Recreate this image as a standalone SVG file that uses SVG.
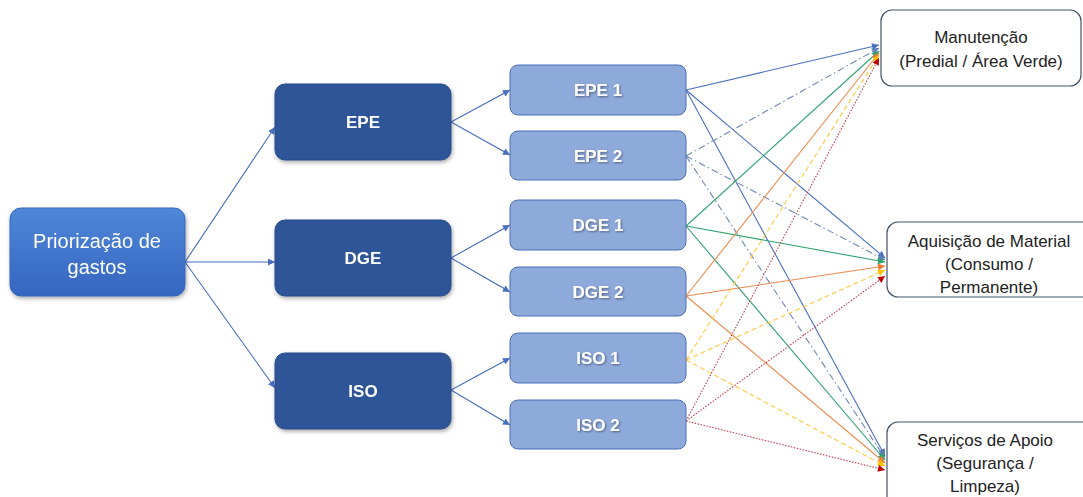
<svg xmlns="http://www.w3.org/2000/svg" width="1083" height="497" viewBox="0 0 1083 497">
<defs>
  <linearGradient id="gLeft" x1="0" y1="0" x2="0" y2="1">
    <stop offset="0" stop-color="#4f87d8"/>
    <stop offset="1" stop-color="#3565c0"/>
  </linearGradient>
  <filter id="sh" x="-10%" y="-10%" width="125%" height="135%">
    <feGaussianBlur in="SourceAlpha" stdDeviation="2"/>
    <feOffset dx="1" dy="2" result="b"/>
    <feComponentTransfer><feFuncA type="linear" slope="0.35"/></feComponentTransfer>
    <feMerge><feMergeNode/><feMergeNode in="SourceGraphic"/></feMerge>
  </filter>
  <filter id="ts" x="-10%" y="-20%" width="120%" height="150%">
    <feGaussianBlur in="SourceAlpha" stdDeviation="0.8"/>
    <feOffset dx="1" dy="1"/>
    <feComponentTransfer><feFuncA type="linear" slope="0.45"/></feComponentTransfer>
    <feMerge><feMergeNode/><feMergeNode in="SourceGraphic"/></feMerge>
  </filter>
  <marker id="aBlue" viewBox="0 0 10 10" refX="10" refY="5" markerWidth="8" markerHeight="7" markerUnits="userSpaceOnUse" orient="auto"><path d="M0,0 L10,5 L0,10 z" fill="#4a6fbf"/></marker>
  <marker id="aBlue2" viewBox="0 0 10 10" refX="10" refY="5" markerWidth="8" markerHeight="7" markerUnits="userSpaceOnUse" orient="auto"><path d="M0,0 L10,5 L0,10 z" fill="#5f7fb8"/></marker>
  <marker id="aGreen" viewBox="0 0 10 10" refX="10" refY="5" markerWidth="8" markerHeight="7" markerUnits="userSpaceOnUse" orient="auto"><path d="M0,0 L10,5 L0,10 z" fill="#2ea26e"/></marker>
  <marker id="aOrange" viewBox="0 0 10 10" refX="10" refY="5" markerWidth="8" markerHeight="7" markerUnits="userSpaceOnUse" orient="auto"><path d="M0,0 L10,5 L0,10 z" fill="#ed7d31"/></marker>
  <marker id="aYellow" viewBox="0 0 10 10" refX="10" refY="5" markerWidth="8" markerHeight="7" markerUnits="userSpaceOnUse" orient="auto"><path d="M0,0 L10,5 L0,10 z" fill="#ffc000"/></marker>
  <marker id="aRed" viewBox="0 0 10 10" refX="10" refY="5" markerWidth="8" markerHeight="7" markerUnits="userSpaceOnUse" orient="auto"><path d="M0,0 L10,5 L0,10 z" fill="#c00000"/></marker>
</defs>
<style>
  .main { fill: url(#gLeft); stroke: #3a66b8; stroke-width: 1; }
  .mid { fill: #2f5597; stroke: #2a4d8a; stroke-width: 1; }
  .sub { fill: #8eaadb; stroke: #4a6fb5; stroke-width: 1; }
  .tgt { fill: #ffffff; stroke: #44546a; stroke-width: 1.2; }
  .wt { fill: #ffffff; font-family: "Liberation Sans", Arial, sans-serif; text-anchor: middle; }
  .bt { fill: #ffffff; font-family: "Liberation Sans", Arial, sans-serif; font-weight: bold; font-size: 17px; text-anchor: middle; }
  .dt { fill: #222222; font-family: "Liberation Sans", Arial, sans-serif; font-size: 17px; text-anchor: middle; }
  .c { fill: none; stroke-width: 1.1; }
  .blue { stroke: #4a6fbf; marker-end: url(#aBlue); }
  .bdd { stroke: #6f87b5; stroke-dasharray: 7 3 1.5 3; marker-end: url(#aBlue2); }
  .green { stroke: #2ea26e; marker-end: url(#aGreen); }
  .orange { stroke: #ee8a4e; marker-end: url(#aOrange); }
  .yellow { stroke: #ffc83d; stroke-dasharray: 5 3; marker-end: url(#aYellow); }
  .red { stroke: #c0404d; stroke-dasharray: 1.5 1.5; marker-end: url(#aRed); }
</style>
<rect width="1083" height="497" fill="#ffffff"/>

<g id="connectors">
  <line class="c blue" x1="185" y1="262" x2="275" y2="127"/>
  <line class="c blue" x1="185" y1="262" x2="275" y2="262"/>
  <line class="c blue" x1="185" y1="262" x2="275" y2="388"/>
  <line class="c blue" x1="451" y1="122" x2="510" y2="90"/>
  <line class="c blue" x1="451" y1="122" x2="510" y2="155"/>
  <line class="c blue" x1="451" y1="258" x2="510" y2="225"/>
  <line class="c blue" x1="451" y1="258" x2="510" y2="292"/>
  <line class="c blue" x1="451" y1="390" x2="510" y2="358"/>
  <line class="c blue" x1="451" y1="390" x2="510" y2="425"/>

  <line class="c blue" x1="686" y1="90" x2="879" y2="45"/>
  <line class="c blue" x1="686" y1="90" x2="885" y2="258"/>
  <line class="c blue" x1="686" y1="90" x2="885" y2="456"/>

  <line class="c bdd" x1="686" y1="156" x2="879" y2="48"/>
  <line class="c bdd" x1="686" y1="156" x2="885" y2="260"/>
  <line class="c bdd" x1="686" y1="156" x2="885" y2="458"/>

  <line class="c green" x1="686" y1="226" x2="879" y2="51"/>
  <line class="c green" x1="686" y1="226" x2="885" y2="262"/>
  <line class="c green" x1="686" y1="226" x2="885" y2="460"/>

  <line class="c orange" x1="686" y1="296" x2="879" y2="53"/>
  <line class="c orange" x1="686" y1="296" x2="885" y2="266"/>
  <line class="c orange" x1="686" y1="296" x2="885" y2="463"/>

  <line class="c yellow" x1="686" y1="360" x2="879" y2="55"/>
  <line class="c yellow" x1="686" y1="360" x2="885" y2="270"/>
  <line class="c yellow" x1="686" y1="360" x2="885" y2="466"/>

  <line class="c red" x1="686" y1="421" x2="879" y2="58"/>
  <line class="c red" x1="686" y1="421" x2="885" y2="276"/>
  <line class="c red" x1="686" y1="421" x2="885" y2="470"/>
</g>

<g id="node-priorizacao" filter="url(#sh)">
  <rect class="main" x="10" y="208" width="175" height="88" rx="11"/>
  <text class="wt" font-size="20" x="97" y="248">Priorização de</text>
  <text class="wt" font-size="20" x="97" y="274">gastos</text>
</g>

<g id="node-epe" filter="url(#sh)">
  <rect class="mid" x="275" y="84" width="176" height="76" rx="10"/>
  <text class="bt" x="363" y="128">EPE</text>
</g>
<g id="node-dge" filter="url(#sh)">
  <rect class="mid" x="275" y="220" width="176" height="76" rx="10"/>
  <text class="bt" x="363" y="264">DGE</text>
</g>
<g id="node-iso" filter="url(#sh)">
  <rect class="mid" x="275" y="353" width="176" height="76" rx="10"/>
  <text class="bt" x="363" y="397">ISO</text>
</g>

<g id="node-epe1">
  <rect class="sub" x="510" y="65" width="176" height="50" rx="8"/>
  <text class="bt" filter="url(#ts)" x="598" y="96">EPE 1</text>
</g>
<g id="node-epe2">
  <rect class="sub" x="510" y="131" width="176" height="49" rx="8"/>
  <text class="bt" filter="url(#ts)" x="598" y="162">EPE 2</text>
</g>
<g id="node-dge1">
  <rect class="sub" x="510" y="200" width="176" height="50" rx="8"/>
  <text class="bt" filter="url(#ts)" x="598" y="231">DGE 1</text>
</g>
<g id="node-dge2">
  <rect class="sub" x="510" y="267" width="176" height="49" rx="8"/>
  <text class="bt" filter="url(#ts)" x="598" y="298">DGE 2</text>
</g>
<g id="node-iso1">
  <rect class="sub" x="510" y="333" width="176" height="50" rx="8"/>
  <text class="bt" filter="url(#ts)" x="598" y="364">ISO 1</text>
</g>
<g id="node-iso2">
  <rect class="sub" x="510" y="400" width="176" height="49" rx="8"/>
  <text class="bt" filter="url(#ts)" x="598" y="431">ISO 2</text>
</g>

<g id="node-manutencao">
  <rect class="tgt" x="881" y="10" width="200" height="76" rx="11"/>
  <text class="dt" x="981" y="43">Manutenção</text>
  <text class="dt" x="981" y="67">(Predial / Área Verde)</text>
</g>
<g id="node-aquisicao">
  <rect class="tgt" x="887" y="222" width="210" height="75" rx="11"/>
  <text class="dt" x="989" y="247">Aquisição de Material</text>
  <text class="dt" x="989" y="270">(Consumo /</text>
  <text class="dt" x="989" y="293">Permanente)</text>
</g>
<g id="node-servicos">
  <rect class="tgt" x="887" y="422" width="210" height="85" rx="11"/>
  <text class="dt" x="985" y="446">Serviços de Apoio</text>
  <text class="dt" x="985" y="469">(Segurança /</text>
  <text class="dt" x="985" y="492">Limpeza)</text>
</g>
</svg>
